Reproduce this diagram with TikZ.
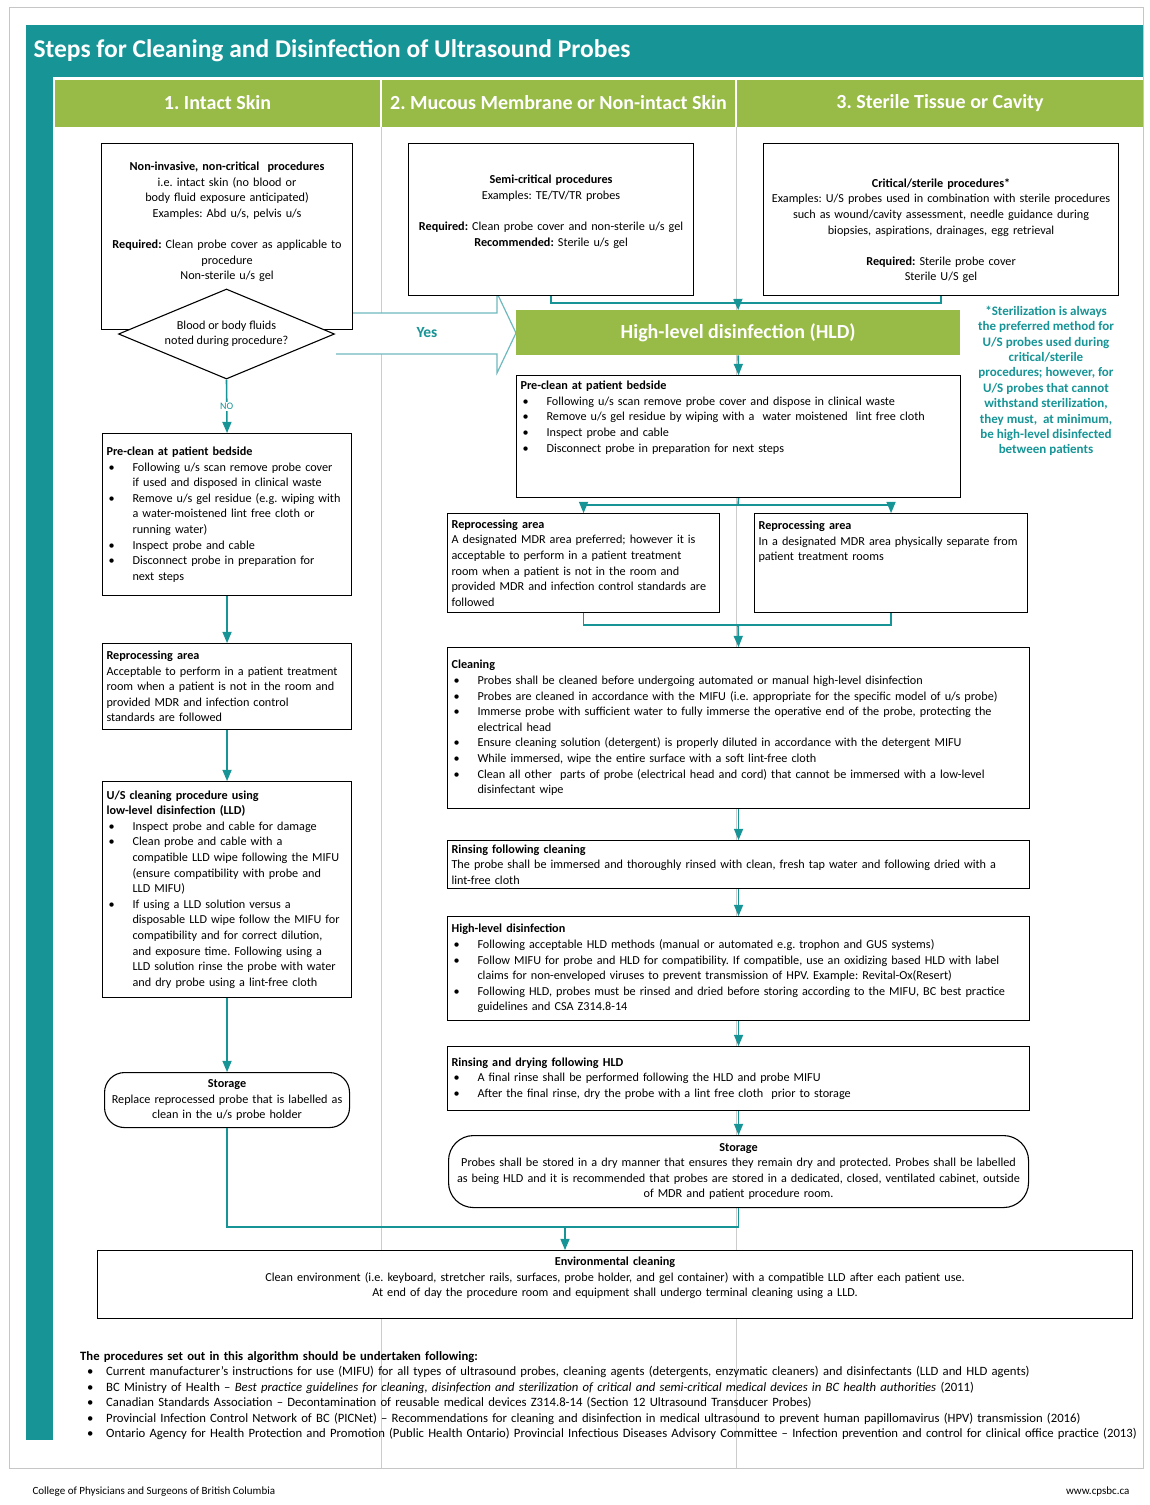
\documentclass[tikz,border=0pt]{standalone}
\usepackage{fontspec}
\setmainfont{Carlito}
\usetikzlibrary{calc}
\usetikzlibrary{arrows}
\usetikzlibrary{shapes.geometric}
\definecolor{cpsteal}{RGB}{22,148,150}
\definecolor{cpsgreen}{RGB}{152,186,70}
\definecolor{yesline}{RGB}{110,185,190}
\hyphenpenalty=10000
\exhyphenpenalty=10000
\frenchspacing
% bullet line with hanging indent
\newcommand{\itm}[2][2pt]{\par\hangindent=26pt\hangafter=1\noindent\hbox to 26pt{\hspace{#1}\textbullet\hfil}#2\par}
% extra room below / above the text of a box
\newcommand{\padb}[1]{\rule[-#1]{0pt}{#1}}
\newcommand{\padt}[1]{\rule{0pt}{#1}}

\begin{document}
\begin{tikzpicture}[x=1pt,y=-1pt,
  box/.style={draw=black, line width=1.1pt, fill=white, anchor=north west, inner xsep=4pt, inner ysep=3pt, align=left, font=\fontsize{12.2}{15.6}\selectfont},
  cbox/.style={box, align=center},
  hdr/.style={fill=cpsgreen, minimum height=47pt, inner sep=0pt, text=white, font=\bfseries\fontsize{20}{22}\selectfont},
  flow/.style={draw=cpsteal, line width=1.6pt, >=triangle 45}]
\useasboundingbox (0,0) rectangle (1149,1505);

% frame, title and column heads
\draw[gray!45, line width=1pt] (9,7) rectangle (1143,1468);
\fill[cpsteal] (26,25) rectangle (1143,77);
\fill[cpsteal] (26,77) rectangle (53,1440);
\node[anchor=west, text=white, font=\bfseries\fontsize{25.5}{28}\selectfont] (title) at (30,51) {Steps for Cleaning and Disinfection of Ultrasound Probes};
\node[hdr, minimum width=325pt] (col1) at (217.5,103) {1. Intact Skin};
\node[hdr, minimum width=353pt] (col2) at (558.5,103) {2. Mucous Membrane or Non-intact Skin};
\node[hdr, minimum width=406pt] (col3) at (940,103) {3. Sterile Tissue or Cavity};
\draw[gray!40, line width=0.8pt] (381,127) -- (381,1468);
\draw[gray!40, line width=0.8pt] (736,127) -- (736,1468);

% the Yes arrow
\draw[yesline, line width=1.2pt, fill=white] (336,313) -- (497,313) -- (497,293) -- (516,333) -- (497,373) -- (497,354) -- (336,354);
\node[text=cpsteal, font=\bfseries\fontsize{15.5}{17}\selectfont] (yes) at (427,333) {Yes};

% column 1
\node[cbox, text width=243pt, minimum height=186pt] (procA) at (101,143) {\textbf{Non-invasive, non-critical\ \ procedures}\\ i.e. intact skin (no blood or\\ body fluid exposure anticipated)\\ Examples: Abd u/s, pelvis u/s\\[15.6pt] \textbf{Required:} Clean probe cover as applicable to\\ procedure\\ Non-sterile u/s gel\padb{31pt}};
\node[diamond, draw=black, line width=1.1pt, fill=white, aspect=2.4, inner sep=0pt, minimum width=216pt, minimum height=90pt, align=center, font=\fontsize{12.2}{15.6}\selectfont] (blood) at (226.5,334) {Blood or body fluids\\noted during procedure?};
\node[box, text width=241pt, minimum height=162pt] (pcl) at (102,433) {\textbf{Pre-clean at patient bedside}
\itm{Following u/s scan remove probe cover\newline if used and disposed in clinical waste}
\itm{Remove u/s gel residue (e.g. wiping with\newline a water-moistened lint free cloth or\newline running water)}
\itm{Inspect probe and cable}
\itm{Disconnect probe in preparation for\newline next steps}};
\node[box, text width=241pt, minimum height=86pt] (rpl) at (102,643) {\textbf{Reprocessing area}\par Acceptable to perform in a patient treatment\newline room when a patient is not in the room and\newline provided MDR and infection control\newline standards are followed};
\node[box, text width=241pt, minimum height=216pt] (usl) at (102,781) {\textbf{U/S cleaning procedure using\newline low-level disinfection (LLD)}
\itm{Inspect probe and cable for damage}
\itm{Clean probe and cable with a\newline compatible LLD wipe following the MIFU\newline (ensure compatibility with probe and\newline LLD MIFU)}
\itm{If using a LLD solution versus a\newline disposable LLD wipe follow the MIFU for\newline compatibility and for correct dilution,\newline and exposure time. Following using a\newline LLD solution rinse the probe with water\newline and dry probe using a lint-free cloth}};
\node[cbox, rounded corners=20pt, text width=237pt, minimum height=55pt] (stl) at (104,1072) {\textbf{Storage}\\Replace reprocessed probe that is labelled as\\clean in the u/s probe holder};

% columns 2 and 3
\node[cbox, text width=277pt, minimum height=152pt] (procB) at (408,143) {\textbf{Semi-critical procedures}\\Examples: TE/TV/TR probes\\[15.6pt]\textbf{Required:} Clean probe cover and non-sterile u/s gel\\\textbf{Recommended:} Sterile u/s gel\padb{18pt}};
\node[cbox, text width=347pt, minimum height=152pt] (procC) at (763,143) {\padt{31pt}\textbf{Critical/sterile procedures*}\\\makebox[\hsize]{Examples: U/S probes used in combination with sterile procedures}\\such as wound/cavity assessment, needle guidance during\\biopsies, aspirations, drainages, egg retrieval\\[15.6pt]\textbf{Required:} Sterile probe cover\\Sterile U/S gel};
\node[fill=cpsgreen, anchor=north west, minimum width=444pt, minimum height=45pt, inner sep=0pt, text=white, font=\bfseries\fontsize{20}{22}\selectfont] (hld) at (516,310) {High-level disinfection (HLD)};
\node[text=cpsteal, align=center, font=\bfseries\fontsize{13}{15.4}\selectfont] (note) at (1046,381) {*Sterilization is always\\the preferred method for\\U/S probes used during\\critical/sterile\\procedures; however, for\\U/S probes that cannot\\withstand sterilization,\\they must,\ \ at minimum,\\be high-level disinfected\\between patients};
\node[box, text width=436pt, minimum height=122pt] (pcr) at (516,375) {\textbf{Pre-clean at patient bedside}
\itm{Following u/s scan remove probe cover and dispose in clinical waste}
\itm{Remove u/s gel residue by wiping with a\ \ water moistened\ \ lint free cloth}
\itm{Inspect probe and cable}
\itm{Disconnect probe in preparation for next steps\padb{40pt}}};
\node[box, text width=264pt, minimum height=99pt] (rp1) at (447,513) {\textbf{Reprocessing area}\par A designated MDR area preferred; however it is\newline acceptable to perform in a patient treatment\newline room when a patient is not in the room and\newline provided MDR and infection control standards are\newline followed};
\node[box, text width=265pt, minimum height=99pt] (rp2) at (754,513) {\textbf{Reprocessing area}\par In a designated MDR area physically separate from patient treatment rooms\padb{44pt}};
\node[box, text width=574pt, minimum height=161pt] (cln) at (447,647) {\textbf{Cleaning}
\itm{Probes shall be cleaned before undergoing automated or manual high-level disinfection}
\itm{Probes are cleaned in accordance with the MIFU (i.e. appropriate for the specific model of u/s probe)}
\itm{Immerse probe with sufficient water to fully immerse the operative end of the probe, protecting the electrical head}
\itm{Ensure cleaning solution (detergent) is properly diluted in accordance with the detergent MIFU}
\itm{While immersed, wipe the entire surface with a soft lint-free cloth}
\itm{Clean all other\ \ parts of probe (electrical head and cord) that cannot be immersed with a low-level disinfectant wipe}};
\node[box, text width=574pt, minimum height=48pt] (rns) at (447,840) {\textbf{Rinsing following cleaning}\par The probe shall be immersed and thoroughly rinsed with clean, fresh tap water and following dried with a lint-free cloth};
\node[box, text width=574pt, minimum height=104pt] (hldd) at (447,916) {\textbf{High-level disinfection}
\itm{Following acceptable HLD methods (manual or automated e.g. trophon and GUS systems)}
\itm{Follow MIFU for probe and HLD for compatibility. If compatible, use an oxidizing based HLD with label claims for non-enveloped viruses to prevent transmission of HPV. Example: Revital-Ox(Resert)}
\itm{Following HLD, probes must be rinsed and dried before storing according to the MIFU, BC best practice guidelines and CSA Z314.8-14}};
\node[box, text width=574pt, minimum height=64pt] (rdr) at (447,1046) {\textbf{Rinsing and drying following HLD}
\itm{A final rinse shall be performed following the HLD and probe MIFU}
\itm{After the final rinse, dry the probe with a lint free cloth\ \ prior to storage}};
\node[cbox, rounded corners=25pt, text width=572pt, minimum height=72pt] (str) at (448,1135) {\textbf{Storage}\\\makebox[\hsize]{Probes shall be stored in a dry manner that ensures they remain dry and protected. Probes shall be labelled}\\\makebox[\hsize]{as being HLD and it is recommended that probes are stored in a dedicated, closed, ventilated cabinet, outside}\\of MDR and patient procedure room.};
\node[cbox, text width=1027pt, minimum height=68pt] (env) at (97,1250) {\textbf{Environmental cleaning}\\Clean environment (i.e. keyboard, stretcher rails, surfaces, probe holder, and gel container) with a compatible LLD after each patient use.\\At end of day the procedure room and equipment shall undergo terminal cleaning using a LLD.\padb{15pt}};

% connectors
\coordinate (topjoin) at (738,303);
\coordinate (split) at (738,505);
\coordinate (merge) at (738,625);
\coordinate (botjoin) at (565,1227);
\draw[flow,->] (blood.south) -- node[fill=white, text=cpsteal, font=\fontsize{10}{11}\selectfont, inner sep=1pt] {NO} (pcl.north);
\draw[flow,->] (pcl.south) -- (rpl.north);
\draw[flow,->] (rpl.south) -- (usl.north);
\draw[flow,->] (usl.south) -- (stl.north);
\draw[flow] (procB.south) |- (topjoin) -| (procC.south);
\draw[flow,->] (topjoin) -- (hld.north);
\draw[flow,->] (hld.south) -- (pcr.north);
\draw[flow] (pcr.south) -- (split);
\draw[flow,->] (split) -| (rp1.north);
\draw[flow,->] (split) -| (rp2.north);
\draw[flow] (rp1.south) |- (merge) -| (rp2.south);
\draw[flow,->] (merge) -- (cln.north);
\draw[flow,->] (cln.south) -- (rns.north);
\draw[flow,->] (rns.south) -- (hldd.north);
\draw[flow,->] (hldd.south) -- (rdr.north);
\draw[flow,->] (rdr.south) -- (str.north);
\draw[flow] (stl.south) |- (botjoin) -| (str.south);
\draw[flow,->] (botjoin) -- (botjoin |- env.north);

% sources and footer
\node[anchor=north west, text width=1065pt, inner sep=0pt, align=left, font=\fontsize{12.7}{15.5}\selectfont] (refs) at (80,1351) {\textbf{The procedures set out in this algorithm should be undertaken following:}
\itm[7pt]{Current manufacturer's instructions for use (MIFU) for all types of ultrasound probes, cleaning agents (detergents, enzymatic cleaners) and disinfectants (LLD and HLD agents)}
\itm[7pt]{BC Ministry of Health -- \textit{Best practice guidelines for cleaning, disinfection and sterilization of critical and semi-critical medical devices in BC health authorities} (2011)}
\itm[7pt]{Canadian Standards Association -- Decontamination of reusable medical devices Z314.8-14 (Section 12 Ultrasound Transducer Probes)}
\itm[7pt]{Provincial Infection Control Network of BC (PICNet) -- Recommendations for cleaning and disinfection in medical ultrasound to prevent human papillomavirus (HPV) transmission (2016)}
\itm[7pt]{Ontario Agency for Health Protection and Promotion (Public Health Ontario) Provincial Infectious Diseases Advisory Committee -- Infection prevention and control for clinical office practice (2013)}};
\node[anchor=west, font=\fontsize{11}{12}\selectfont] (college) at (29,1492) {College of Physicians and Surgeons of British Columbia};
\node[anchor=east, font=\fontsize{11}{12}\selectfont] (web) at (1133,1492) {www.cpsbc.ca};
\end{tikzpicture}
\end{document}
